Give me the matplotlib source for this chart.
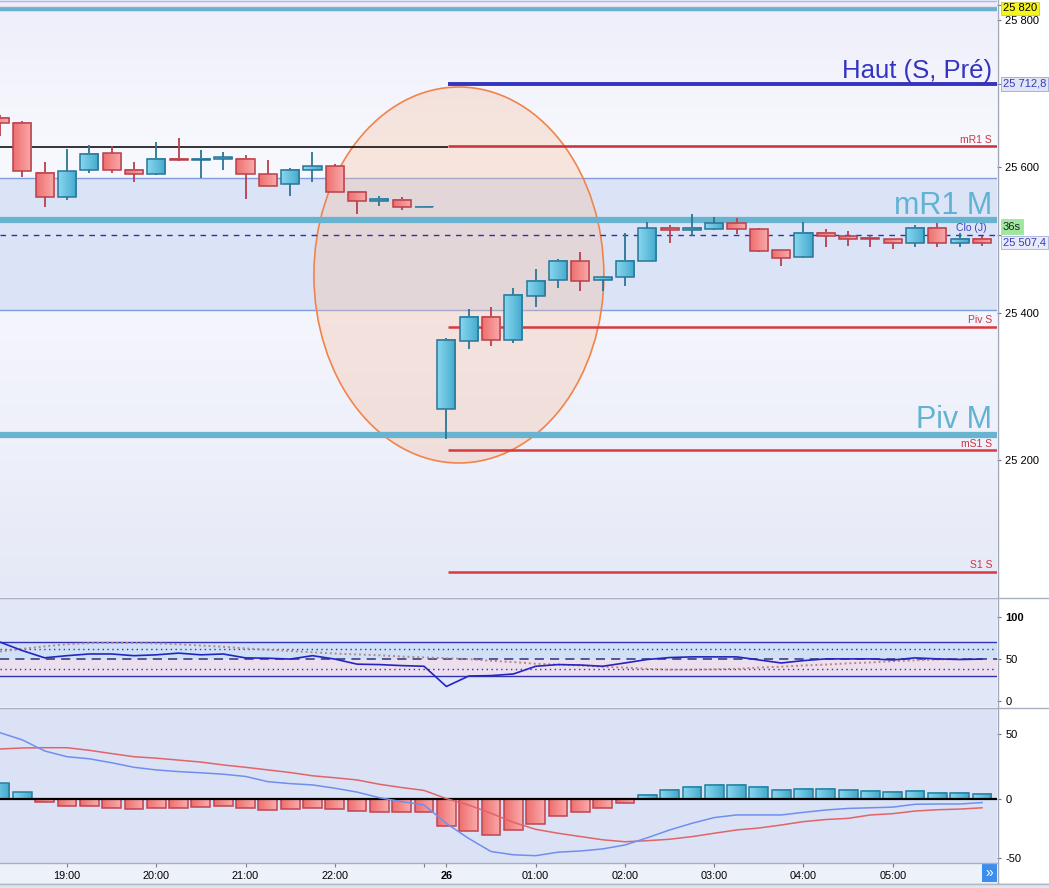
import matplotlib
matplotlib.use('Agg')
import matplotlib.pyplot as plt
import numpy as np
from matplotlib.patches import Ellipse, Rectangle
from matplotlib.lines import Line2D
from matplotlib.colors import LinearSegmentedColormap

plt.rcParams['font.family'] = ['Liberation Sans', 'DejaVu Sans']

W, H = 1049, 888

# ---------------- data ----------------
tick_idx = [3, 7, 11, 15, 20, 24, 28, 32, 36, 40]
tick_labels = ['19:00', '20:00', '21:00', '22:00', '26', '01:00', '02:00', '03:00', '04:00', '05:00']

opens  = [25667, 25660, 25592, 25559, 25595, 25618, 25596, 25590, 25611, 25609,
          25611, 25611, 25590, 25576, 25596, 25601, 25566, 25553, 25555, 25545,
          25269, 25362, 25395, 25363, 25423, 25445, 25471, 25445, 25450, 25472,
          25517, 25513, 25515, 25523, 25515, 25486, 25477, 25510, 25505, 25503,
          25501, 25496, 25517, 25496, 25502]
highs  = [25670, 25662, 25606, 25624, 25629, 25628, 25606, 25633, 25639, 25623,
          25620, 25616, 25609, 25598, 25620, 25603, 25567, 25560, 25559, 25545,
          25367, 25406, 25409, 25434, 25460, 25474, 25484, 25449, 25510, 25524,
          25520, 25535, 25531, 25530, 25517, 25486, 25524, 25515, 25512, 25507,
          25501, 25520, 25523, 25509, 25505]
lows   = [25642, 25586, 25545, 25555, 25592, 25591, 25579, 25589, 25608, 25584,
          25595, 25556, 25573, 25560, 25579, 25565, 25536, 25547, 25541, 25545,
          25229, 25351, 25356, 25360, 25409, 25435, 25430, 25430, 25437, 25472,
          25496, 25506, 25514, 25508, 25483, 25464, 25476, 25490, 25492, 25491,
          25488, 25491, 25491, 25490, 25492]
closes = [25659, 25594, 25558, 25594, 25617, 25595, 25590, 25611, 25609, 25611,
          25613, 25590, 25574, 25596, 25601, 25566, 25553, 25556, 25545, 25545,
          25364, 25395, 25363, 25425, 25444, 25472, 25444, 25449, 25472, 25517,
          25513, 25516, 25523, 25515, 25485, 25476, 25510, 25505, 25502, 25501,
          25496, 25517, 25496, 25502, 25496]

rsi = [70, 60, 51.5, 54, 56, 56, 54, 55, 57, 55, 56, 51.4, 51, 50, 54, 50, 44, 43.5,
       42.3, 41.5, 17.7, 30, 30.5, 32.4, 41.5, 43.5, 43, 41.5, 45.4, 49.5, 51.8, 52.6,
       52.6, 52.6, 49, 45.4, 48.2, 50.2, 50.2, 50.2, 49, 51.4, 50.2, 49.5, 50]
rsi_signal = [59, 62, 65, 67.5, 68.8, 69, 69, 68.5, 67.5, 66, 64.5, 62.5, 61, 59.5, 58,
              56.5, 55.5, 54.5, 53, 52, 51, 50, 48, 46.5, 44.5, 43.5, 42.5, 41, 40, 38.5,
              37.5, 37.5, 38, 38.5, 40, 41, 42.5, 43.5, 45, 46, 47.5, 48.5, 49.5, 50, 50]

macd = [51, 45.5, 37, 32.6, 31, 28, 24.5, 22.5, 21.2, 20.3, 19.2, 17.5, 13.5, 12, 11,
        8.5, 5.5, 1.2, -1.8, -4.4, -18.5, -30, -40, -42.5, -43.2, -40.5, -39.6, -38, -35,
        -29.5, -23.5, -18.4, -14, -12, -12, -12, -10, -8.2, -7, -6.5, -6, -3.8, -3.6, -3.6, -2.5]
macd_signal = [38.5, 39.3, 39.5, 39.5, 37.5, 35, 32.6, 31.5, 30, 28.5, 26.3, 24.5, 22.5,
               20.5, 18, 16.5, 14.8, 11.5, 9, 6.8, 0.5, -4.4, -10.7, -17.6, -23, -26, -28.5,
               -31, -32.5, -31.7, -30.6, -28.6, -26, -23.5, -22, -19.7, -17.1, -15.5, -14.6,
               -12, -11, -9, -8, -7.5, -6.5]
macd_hist = [12.2, 5.3, -2.3, -4.9, -4.9, -6.9, -7.7, -6.9, -6.9, -6.1, -5.1, -6.9, -8.2,
             -7.7, -6.9, -7.7, -9.2, -10, -10, -10, -20.7, -24.5, -27.3, -23.7, -18.9, -12.8,
             -10, -6.9, -3.1, 3.3, 6.9, 9.4, 10.9, 10.9, 9.4, 6.9, 7.7, 7.7, 6.9, 6.4, 5.6,
             6.4, 4.8, 4.8, 4.1]

# levels
haut_s_pre = 25712.8
mr1_s = 25628
prev_line = 25627
band_top, band_bot = 25584.6, 25404.5
mr1_m = 25527.3
clo_j = 25507.4
piv_s = 25381.4
piv_m = 25234
ms1_s = 25213.6
s1_s = 25047.3
top_levels = [25826, 25818, 25815.5]
last_price_label = '36s'

n = len(opens)
idx = np.arange(n)
XMIN, XMAX = 0.0, 44.67
SESSION_START = 20.07

fig = plt.figure(figsize=(W / 100, H / 100), dpi=100)
fig.patch.set_facecolor('white')


def rect(x0, y0, x1, y1):
    return [x0 / W, 1 - y1 / H, (x1 - x0) / W, (y1 - y0) / H]


def vgrad(ax, colors, z=0):
    cmap = LinearSegmentedColormap.from_list('bg', colors)
    y0, y1 = ax.get_ylim()
    ax.imshow(np.linspace(0, 1, 64).reshape(-1, 1), cmap=cmap, aspect='auto',
              extent=[XMIN, XMAX, y0, y1], origin='upper', zorder=z, interpolation='bilinear')


def hgrad_box(ax, x0, x1, y0, y1, cl, cr, ec, z):
    cmap = LinearSegmentedColormap.from_list('g', [cl, cr])
    ax.imshow(np.linspace(0, 1, 16).reshape(1, -1), cmap=cmap, aspect='auto',
              extent=[x0, x1, y0, y1], zorder=z, interpolation='bilinear')
    ax.add_patch(Rectangle((x0, y0), x1 - x0, y1 - y0, fill=False, ec=ec, lw=1.1, zorder=z + 0.1))


BLUE_L, BLUE_R, BLUE_E = '#86d6ef', '#45aacd', '#2a7595'
RED_L, RED_R, RED_E = '#ef7070', '#f9aaaa', '#b8404c'

# ---------------- main price panel ----------------
ax = fig.add_axes(rect(0, 0, 997, 597))
YMIN, YMAX = 25013.2, 25827.3
ax.set_xlim(XMIN, XMAX)
ax.set_ylim(YMIN, YMAX)
vgrad(ax, ['#eeeefa', '#f8f9fe', '#f5f6fd', '#eef0fa', '#e5e8f6'], z=0)
ax.axhspan(top_levels[1], YMAX, color='#eceefa', zorder=0.2, lw=0)
ax.axhspan(band_bot, band_top, color='#dbe3f7', zorder=0.3, lw=0)
ax.axhline(band_top, color='#7f9ede', lw=1, zorder=1)
ax.axhline(band_bot, color='#7f9ede', lw=1, zorder=1)

ax.add_patch(Ellipse((20.56, 25452.3), 12.99, 512.7, facecolor=(0.96, 0.74, 0.62, 0.33),
                     edgecolor='#f0844a', lw=1.2, zorder=1.2))

ax.axhline(top_levels[0], color='#b4b4e6', lw=1, zorder=2)
ax.axhline(top_levels[1], color='#c49cba', lw=1, zorder=2)
ax.axhline(top_levels[2], color='#68b2cc', lw=2.5, zorder=2)

ax.hlines(haut_s_pre, SESSION_START, XMAX, color='#3434c0', lw=2.8, zorder=2)
ax.hlines(mr1_s, SESSION_START, XMAX, color='#c8303c', lw=1.8, zorder=2)
ax.hlines(prev_line, XMIN, SESSION_START, color='black', lw=1.1, zorder=2)
ax.axhline(mr1_m, color='#68b4d0', lw=4.5, zorder=2)
ax.axhline(clo_j, color='#3030a8', lw=1, ls=(0, (4, 4)), zorder=2.1)
ax.hlines(piv_s, SESSION_START, XMAX, color='#d83a40', lw=1.8, zorder=2)
ax.axhline(piv_m, color='#68b4d0', lw=4.5, zorder=2)
ax.hlines(ms1_s, SESSION_START, XMAX, color='#d83a40', lw=1.8, zorder=2)
ax.hlines(s1_s, SESSION_START, XMAX, color='#d83a40', lw=1.8, zorder=2)

# candles
bw = 0.81
for i in range(n):
    o, h, l, c = opens[i], highs[i], lows[i], closes[i]
    up = c >= o
    ec = BLUE_E if up else RED_E
    ax.vlines(i, l, h, color=ec, lw=1.3, zorder=2.9)
    lo, hi = min(o, c), max(o, c)
    if hi - lo < 1.2:
        mid = (hi + lo) / 2
        lo, hi = mid - 0.6, mid + 0.6
    if up:
        hgrad_box(ax, i - bw / 2, i + bw / 2, lo, hi, BLUE_L, BLUE_R, ec, 3)
    else:
        hgrad_box(ax, i - bw / 2, i + bw / 2, lo, hi, RED_L, RED_R, ec, 3)
ax.set_xlim(XMIN, XMAX)
ax.set_ylim(YMIN, YMAX)

ytr = ax.get_yaxis_transform()
px = 1.3636  # price units per pixel
ax.text(992 / 997, haut_s_pre + 6 * px, 'Haut (S, Pré)', transform=ytr, ha='right', va='baseline',
        fontsize=18.5, color='#3434c0', zorder=5)
ax.text(992 / 997, mr1_m + 6 * px, 'mR1 M', transform=ytr, ha='right', va='baseline',
        fontsize=22, color='#62b2d2', zorder=5)
ax.text(992 / 997, piv_m + 7.5 * px, 'Piv M', transform=ytr, ha='right', va='baseline',
        fontsize=22, color='#62b2d2', zorder=5)
for val, lab in [(mr1_s, 'mR1 S'), (piv_s, 'Piv S'), (ms1_s, 'mS1 S'), (s1_s, 'S1 S')]:
    ax.text(992 / 997, val + 3.5 * px, lab, transform=ytr, ha='right', va='baseline',
            fontsize=7.5, color='#d03444', zorder=5)
ax.text(987 / 997, clo_j + 3.5 * px, 'Clo (J)', transform=ytr, ha='right', va='baseline',
        fontsize=7.5, color='#4040c0', zorder=5)

ax.set_xticks([])
ax.yaxis.tick_right()
ax.set_yticks([25200, 25400, 25600, 25800])
ax.set_yticklabels(['25 200', '25 400', '25 600', '25 800'])
ax.set_yticks([25820, haut_s_pre, clo_j], minor=True)
ax.tick_params(axis='y', which='both', direction='out', length=3, width=0.8, color='#707070',
               labelsize=8, pad=3, labelcolor='black')
for s in ax.spines.values():
    s.set_visible(False)

# price boxes
ax.text(1003 / 997, 25816, '25 820', transform=ytr, ha='left', va='center', fontsize=8,
        color='black', clip_on=False, zorder=6,
        bbox=dict(boxstyle='square,pad=0.15', fc='#f4f41e', ec='#c8c850', lw=0.6))
ax.text(1003 / 997, haut_s_pre, '25 712,8', transform=ytr, ha='left', va='center', fontsize=8,
        color='#3838b8', clip_on=False, zorder=6,
        bbox=dict(boxstyle='square,pad=0.15', fc='#dfe5f7', ec='#9aa6d8', lw=0.6))
ax.text(1003 / 997, clo_j + 8 * px, last_price_label, transform=ytr, ha='left', va='center',
        fontsize=8, color='#202020', clip_on=False, zorder=6,
        bbox=dict(boxstyle='square,pad=0.2', fc='#9fe69f', ec='#9fe69f', lw=0.6))
ax.text(1003 / 997, clo_j - 8 * px, '25 507,4', transform=ytr, ha='left', va='center',
        fontsize=8, color='#3838c0', clip_on=False, zorder=6,
        bbox=dict(boxstyle='square,pad=0.15', fc='#e8ecfa', ec='#a8b0d8', lw=0.6))

# ---------------- RSI panel ----------------
ar = fig.add_axes(rect(0, 598, 997, 707))
ar.set_xlim(XMIN, XMAX)
ar.set_ylim(-6.5, 122)
ar.set_facecolor('#e2e7f7')
ar.axhspan(50, 70, color='#d0e1f7', lw=0, zorder=0.5)
ar.axhspan(30, 50, color='#ecdfee', lw=0, zorder=0.5)
ar.axhline(70, color='#3232b4', lw=1, zorder=1)
ar.axhline(30, color='#3232b4', lw=1, zorder=1)
ar.axhline(62, color='#3434a4', lw=1, ls=(0, (1, 2.5)), zorder=1)
ar.axhline(38, color='#3434a4', lw=1, ls=(0, (1, 2.5)), zorder=1)
ar.axhline(50, color='#303078', lw=1.1, ls=(0, (6, 4)), zorder=1)
ar.plot(idx, rsi_signal, color='#c08282', lw=1.4, ls=(0, (1, 1.5)), zorder=2)
ar.plot(idx, rsi, color='#2424c0', lw=1.2, zorder=3)
ar.set_xticks([])
ar.yaxis.tick_right()
ar.set_yticks([0, 50, 100])
ar.set_yticklabels(['0', '50', '100'])
ar.tick_params(axis='y', direction='out', length=3, width=0.8, color='#707070', labelsize=8, pad=3)
ar.get_yticklabels()[2].set_fontweight('bold')
for s in ar.spines.values():
    s.set_visible(False)

# ---------------- MACD panel ----------------
axb = fig.add_axes(rect(0, 862.5, 997, 883))
axb.set_facecolor('#edf1f9')
axb.set_xticks([])
axb.set_yticks([])
for s in axb.spines.values():
    s.set_visible(False)

am = fig.add_axes(rect(0, 708, 997, 862.5))
am.set_xlim(XMIN, XMAX)
am.set_ylim(-48.4, 69.9)
am.set_facecolor('#dce2f5')
hb = 0.84
for i in range(n):
    v = macd_hist[i]
    if v >= 0:
        hgrad_box(am, i - hb / 2, i + hb / 2, 0, v, BLUE_L, BLUE_R, '#2a7f9e', 2)
    else:
        hgrad_box(am, i - hb / 2, i + hb / 2, v, 0, RED_L, RED_R, '#c04450', 2)
am.set_xlim(XMIN, XMAX)
am.set_ylim(-48.4, 69.9)
am.axhline(0, color='black', lw=1.6, zorder=3)
am.plot(idx, macd_signal, color='#e06468', lw=1.1, zorder=4)
am.plot(idx, macd, color='#6f8fee', lw=1.1, zorder=4)
am.yaxis.tick_right()
am.set_yticks([-45, 0, 50])
am.set_yticklabels(['-50', '0', '50'])
am.tick_params(axis='y', direction='out', length=3, width=0.8, color='#707070', labelsize=8, pad=3)
am.set_xticks(tick_idx)
am.set_xticklabels(tick_labels)
am.set_xticks([19], minor=True)
am.tick_params(axis='x', which='both', direction='out', length=3, width=0.8, color='#808080',
               labelsize=7.8, pad=3)
for lab in am.get_xticklabels():
    if lab.get_text() == '26':
        lab.set_fontweight('bold')
for s in am.spines.values():
    s.set_visible(False)

# ---------------- frame lines & widgets ----------------
def fline(x0, y0, x1, y1, color, lw=1):
    fig.add_artist(Line2D([x0 / W, x1 / W], [1 - y0 / H, 1 - y1 / H], transform=fig.transFigure,
                          color=color, lw=lw))

fline(997.5, 0, 997.5, 883, '#a0a8b8')
fline(0, 597.5, W, 597.5, '#a8b0c0')
fline(0, 707.5, W, 707.5, '#a8b0c0')
fline(0, 862.5, 997, 862.5, '#a8b0c0')

fig.add_artist(Rectangle((0, 0), 1, 5 / H, transform=fig.transFigure, fc='#dde7ef', ec='none'))
fline(0, 883.5, W, 883.5, '#b0b8c4')
fig.add_artist(Rectangle((982 / W, 1 - 882 / H), 15 / W, 19 / H, transform=fig.transFigure,
                         fc='#3a8ef0', ec='none'))
fig.text(989.5 / W, 1 - 872.5 / H, '»', color='white', fontsize=10, ha='center', va='center')

fig.savefig('out.png', dpi=100, facecolor='white')
